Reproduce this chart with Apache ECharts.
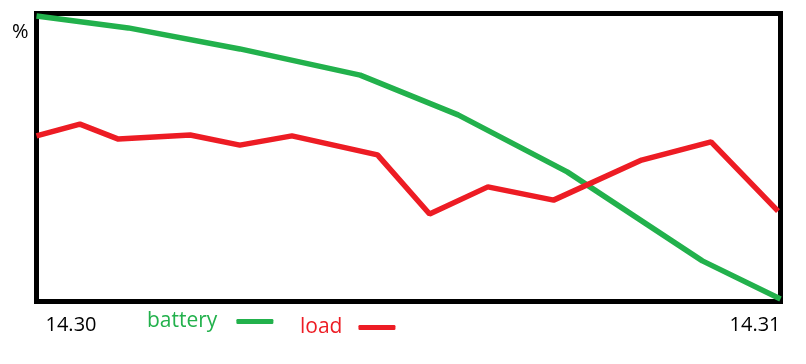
<!DOCTYPE html>
<html>
<head>
<meta charset="utf-8">
<script src="https://cdn.jsdelivr.net/npm/echarts@6/dist/echarts.min.js"></script>
<style>
html,body{margin:0;padding:0;background:#fff;}
#chart{width:806px;height:364px;}
</style>
</head>
<body>
<div id="chart"></div>
<script>
// ---- data ----
var seriesNames = ['battery', 'load'];
var xTickLabels = ['14.30', '14.31'];   // x axis runs 0..60 s
var yAxisLabel = '%';
var batteryTime = [0, 7.4, 16.4, 26.1, 34.0, 42.8, 53.7, 60];
var batteryPct  = [99.1, 95.0, 87.7, 78.6, 64.8, 45.0, 14.1, 0.9];
var loadTime = [0, 3.5, 6.6, 12.4, 16.4, 20.6, 27.5, 31.7, 36.4, 41.7, 48.8, 54.4, 59.8];
var loadPct  = [57.5, 61.6, 56.4, 57.8, 54.3, 57.5, 50.9, 30.4, 39.8, 35.2, 49.1, 55.4, 31.4];

var GREEN = '#22b14c', RED = '#ed1c24';
function pairs(xs, ys) { return xs.map(function (x, i) { return [x, ys[i]]; }); }

var chart = echarts.init(document.getElementById('chart'), null, {renderer: 'canvas'});
chart.setOption({
  animation: false,
  backgroundColor: '#fff',
  textStyle: {fontFamily: 'Open Sans'},
  grid: {
    left: 36.5, right: 25.5, top: 13.5, bottom: 62.5,
    show: true, borderWidth: 5, borderColor: '#000', backgroundColor: 'transparent'
  },
  legend: [
    {
      data: [seriesNames[0]], left: 147, top: 311, padding: 0, align: 'right',
      icon: 'roundRect', itemWidth: 37, itemHeight: 5,
      textStyle: {color: GREEN, fontSize: 21, fontFamily: 'Open Sans', padding: [0, 14, 0, 0]}
    },
    {
      data: [seriesNames[1]], left: 300, top: 317, padding: 0, align: 'right',
      icon: 'roundRect', itemWidth: 37, itemHeight: 5,
      textStyle: {color: RED, fontSize: 21, fontFamily: 'Open Sans', padding: [0, 11, 0, 0]}
    }
  ],
  xAxis: {
    type: 'value', min: 0, max: 60, interval: 60,
    axisLine: {show: false}, axisTick: {show: false}, splitLine: {show: false},
    axisLabel: {
      show: true, margin: 14, color: '#000', fontSize: 20, fontFamily: 'Open Sans',
      alignMinLabel: 'left', alignMaxLabel: 'right',
      formatter: function (v) {
        var i = Math.round(v / 60);
        return (i === 0 ? '{first|' : '{last|') + xTickLabels[i] + '}';
      },
      rich: {
        first: {color: '#000', fontSize: 20, fontFamily: 'Open Sans', padding: [0, 0, 0, 9]},
        last: {color: '#000', fontSize: 20, fontFamily: 'Open Sans'}
      }
    }
  },
  yAxis: {
    type: 'value', min: 0, max: 100, interval: 100,
    axisLine: {show: false}, axisTick: {show: false}, splitLine: {show: false},
    axisLabel: {show: false},
    name: '{p|' + yAxisLabel + '}', nameLocation: 'end', nameGap: -19,
    nameTextStyle: {
      color: '#000', fontSize: 20, fontFamily: 'Open Sans', align: 'right', verticalAlign: 'middle',
      rich: {p: {color: '#000', fontSize: 20, fontFamily: 'Open Sans', padding: [0, 8, 0, 0]}}
    }
  },
  series: [
    {
      name: seriesNames[0], type: 'line', data: pairs(batteryTime, batteryPct),
      symbol: 'none', lineStyle: {color: GREEN, width: 5.5}, itemStyle: {color: GREEN}, z: 3
    },
    {
      name: seriesNames[1], type: 'line', data: pairs(loadTime, loadPct),
      symbol: 'none', lineStyle: {color: RED, width: 5.5}, itemStyle: {color: RED}, z: 3
    }
  ]
});
</script>
</body>
</html>
